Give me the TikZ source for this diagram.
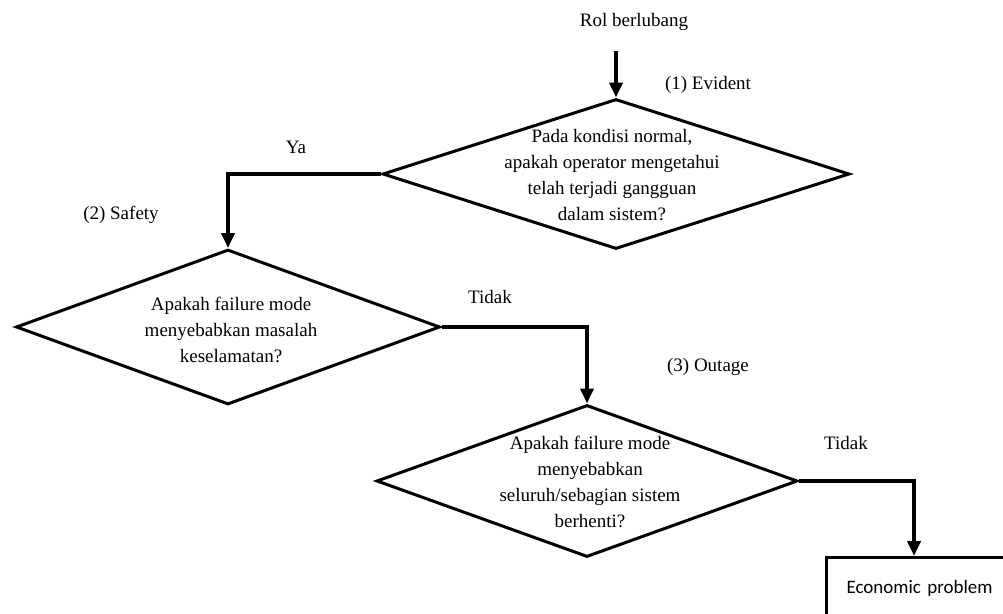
\documentclass[tikz,border=0pt]{standalone}
\usepackage{fontspec}
\setmainfont{Liberation Serif}
\newfontfamily\calibri{Carlito}
\usetikzlibrary{shapes.geometric, arrows.meta, positioning, calc}
\tikzstyle{decision} = [diamond, draw=black, line width=3pt, inner sep=0pt]
\tikzstyle{question} = [align=center, inner sep=0pt, font=\fontsize{19}{26}\selectfont]
\tikzstyle{tag} = [inner sep=0pt, font=\fontsize{19}{24}\selectfont]
\tikzstyle{outcome} = [rectangle, draw=black, line width=3pt, text width=180pt, align=left, inner xsep=20pt, minimum height=62pt, font=\calibri\fontsize{19}{22}\selectfont]
\tikzstyle{arrow} = [-{Triangle[width=13pt, length=15pt]}, line width=4pt, black]

\begin{document}
\begin{tikzpicture}[x=1pt, y=-1pt]
\useasboundingbox (0,0) rectangle (1003,613);
\clip (0,0) rectangle (1003,613);

% Start
\node (rol) [tag] at (634,22) {Rol berlubang};
\coordinate (start) at (616,51);

% Decision diamonds
\node (evident) [decision, minimum width=467pt, minimum height=150pt] at (616,174) {};
\node (evidentq) [question] at (612,175) {Pada kondisi normal,\\apakah operator mengetahui\\telah terjadi gangguan\\dalam sistem?};
\node (safety) [decision, minimum width=424pt, minimum height=155pt] at (228,327) {};
\node (safetyq) [question] at (231,330) {Apakah failure mode\\menyebabkan masalah\\keselamatan?};
\node (outage) [decision, minimum width=421pt, minimum height=152pt] at (587,481) {};
\node (outageq) [question] at (590,482) {Apakah failure mode\\menyebabkan\\seluruh/sebagian sistem\\berhenti?};

% Result box (runs past the page edge)
\node (economic) [outcome, anchor=north west] at (825,556) {Economic problem};

% Tags
\node (evidenttag) [tag] at (708,85) {(1) Evident};
\node (safetytag) [tag] at (121,215) {(2) Safety};
\node (outagetag) [tag] at (708,367) {(3) Outage};
\node (ya) [tag] at (296,147) {Ya};
\node (tidak1) [tag] at (490,297) {Tidak};
\node (tidak2) [tag] at (846,443) {Tidak};

% Arrows
\draw [arrow] (start) -- (evident.north);
\draw [arrow] (evident.west) -| (safety.north);
\draw [arrow] (safety.east) -| (outage.north);
\draw [arrow] (outage.east) -| ($(economic.north west)+(89,0)$);

\end{tikzpicture}
\end{document}
